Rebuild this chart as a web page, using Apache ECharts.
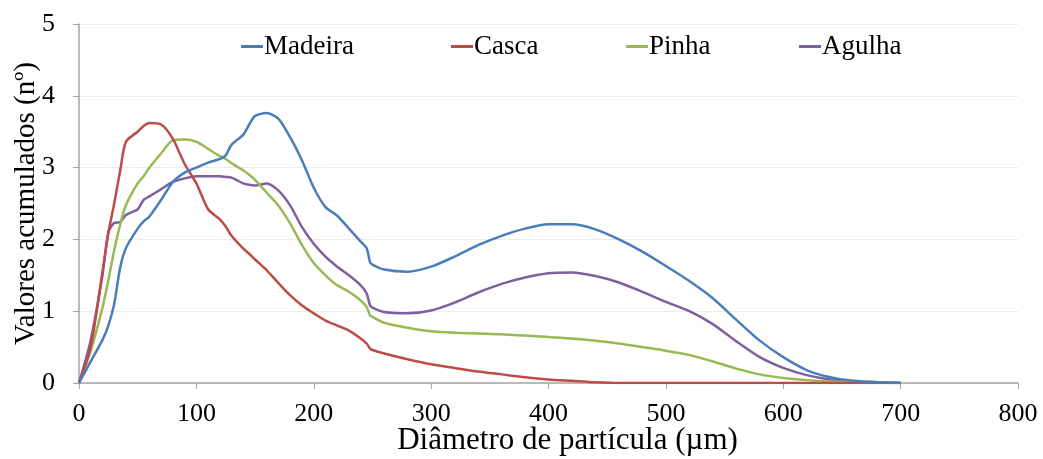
<!DOCTYPE html>
<html>
<head>
<meta charset="UTF-8">
<title>Valores acumulados</title>
<script type="text/javascript" src="https://cdn.jsdelivr.net/npm/echarts@6/dist/echarts.min.js"></script>
<style>
  html, body { margin: 0; padding: 0; background: #fff; }
</style>
</head>
<body>
<div id="box" style="width:1043px;height:459px;"></div>

<script type="text/javascript">
// diametro de particula (um)
var diametros = [0,10,20,25,30,35,40,50,55,60,70,80,90,100,110,120,125,130,140,145,150,160,170,180,190,200,
  210,220,230,240,245,248,250,260,280,300,320,340,360,380,400,420,440,460,480,500,520,540,560,580,600,620,640,660,680,700];

var madeira = [0,0.3,0.6,0.8,1.1,1.6,1.88,2.15,2.25,2.32,2.55,2.8,2.93,3.0,3.07,3.12,3.17,3.32,3.46,3.6,3.72,3.76,3.68,3.42,3.1,2.72,
  2.45,2.33,2.15,1.97,1.88,1.68,1.65,1.58,1.55,1.62,1.76,1.92,2.05,2.15,2.21,2.21,2.14,2.0,1.83,1.63,1.42,1.18,0.88,0.59,0.36,0.18,0.08,0.03,0.01,0];

var casca = [0,0.5,1.55,2.09,2.5,2.95,3.36,3.5,3.58,3.62,3.6,3.4,3.05,2.78,2.42,2.28,2.18,2.05,1.87,1.8,1.72,1.57,1.39,1.22,1.08,0.97,
  0.87,0.8,0.73,0.62,0.55,0.48,0.46,0.41,0.33,0.26,0.21,0.16,0.12,0.08,0.05,0.03,0.01,0,0,0,0,0,0,0,0,0,0,0,0,0];

var pinha = [0,0.45,1.05,1.43,1.85,2.2,2.48,2.78,2.88,3.0,3.2,3.38,3.39,3.36,3.26,3.16,3.12,3.06,2.96,2.9,2.83,2.65,2.47,2.22,1.92,1.67,
  1.5,1.36,1.27,1.15,1.06,0.94,0.92,0.84,0.77,0.72,0.7,0.69,0.68,0.66,0.64,0.62,0.59,0.55,0.5,0.45,0.39,0.3,0.2,0.12,0.07,0.04,0.02,0.01,0,0];

var agulha = [0,0.6,1.5,2.1,2.23,2.24,2.34,2.42,2.55,2.6,2.7,2.8,2.85,2.88,2.88,2.88,2.87,2.86,2.78,2.76,2.75,2.78,2.68,2.47,2.17,1.94,
  1.76,1.62,1.5,1.36,1.25,1.08,1.05,0.99,0.97,1.01,1.12,1.26,1.38,1.47,1.53,1.54,1.49,1.4,1.27,1.13,1.0,0.82,0.58,0.36,0.21,0.11,0.05,0.02,0.01,0];

var nomes = ['Madeira','Casca','Pinha','Agulha'];
var cores = ['#4a7ebb','#be4b48','#98b954','#7d60a0'];
var legendLeft = [236, 446, 621, 794];

var fonte = '"Liberation Serif", "DejaVu Serif", serif';

function pares(ys){
  var out = [];
  for (var i = 0; i < diametros.length; i++) out.push([diametros[i], ys[i]]);
  return out;
}

var valores = [madeira, casca, pinha, agulha];
var series = [];
var legends = [];
for (var k = 0; k < nomes.length; k++) {
  series.push({
    name: nomes[k],
    type: 'line',
    data: pares(valores[k]),
    showSymbol: false,
    smooth: 0.25,
    lineStyle: { color: cores[k], width: 2.5 },
    itemStyle: { color: cores[k] },
    z: 10 - k
  });
  legends.push({
    data: [nomes[k]],
    left: legendLeft[k],
    top: 28,
    icon: 'rect',
    itemWidth: 22,
    itemHeight: 3,
    textStyle: { fontFamily: fonte, fontSize: 27, color: '#000', padding: [0,0,0,-4] }
  });
}

var mychart = echarts.init(document.getElementById('box'));
mychart.setOption({
  animation: false,
  backgroundColor: '#fff',
  legend: legends,
  grid: { left: 79, right: 25, top: 24, bottom: 76, containLabel: false, outerBoundsMode: 'none' },
  xAxis: {
    type: 'value',
    min: 0, max: 800, interval: 100,
    name: 'Diâmetro de partícula (µm)',
    nameLocation: 'middle',
    nameGap: 42,
    nameMoveOverlap: false,
    nameTextStyle: { fontFamily: fonte, fontSize: 31, color: '#000', padding: [0,0,0,38] },
    axisLine: { show: true, lineStyle: { color: '#a6a6a6', width: 1.5 } },
    axisTick: { show: true, inside: false, length: 6, lineStyle: { color: '#a6a6a6' } },
    axisLabel: { fontFamily: fonte, fontSize: 26, color: '#000', margin: 18 },
    splitLine: { show: false }
  },
  yAxis: {
    type: 'value',
    min: 0, max: 5, interval: 1,
    name: 'Valores acumulados (nº)',
    nameLocation: 'middle',
    nameGap: 38,
    nameMoveOverlap: false,
    nameTextStyle: { fontFamily: fonte, fontSize: 29, color: '#000' },
    axisLine: { show: true, lineStyle: { color: '#a6a6a6', width: 1.5 } },
    axisTick: { show: true, inside: false, length: 6, lineStyle: { color: '#a6a6a6' } },
    axisLabel: { fontFamily: fonte, fontSize: 26, color: '#000', margin: 24 },
    splitLine: { show: true, lineStyle: { color: '#ececec', width: 1 } }
  },
  series: series
});
</script>
</body>
</html>
